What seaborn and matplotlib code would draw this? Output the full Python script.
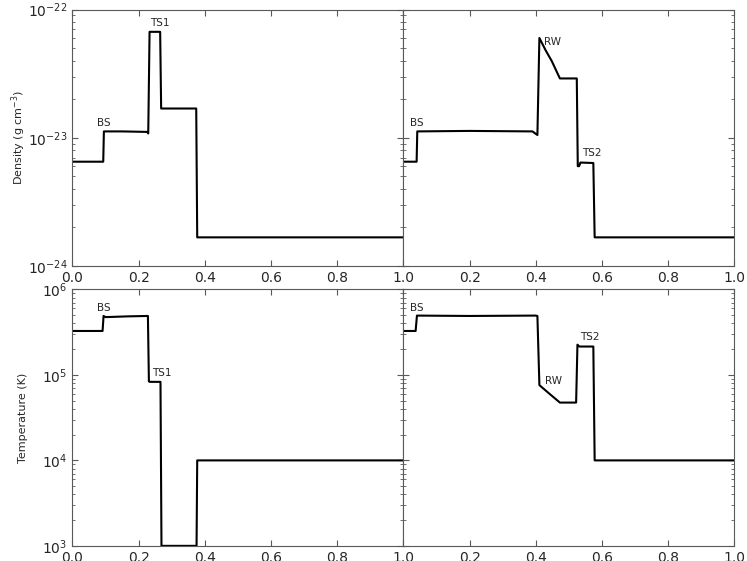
import numpy as np
import matplotlib
matplotlib.use('Agg')
import matplotlib.pyplot as plt
import seaborn as sns

# step profiles (position, value)
x_dens_1 = [0.0, 0.093, 0.095, 0.15, 0.226, 0.229, 0.233, 0.265, 0.268, 0.374, 0.377, 1.0]
dens_1 = [6.5e-24, 6.5e-24, 1.12e-23, 1.12e-23, 1.11e-23, 1.08e-23, 6.7e-23, 6.7e-23, 1.69e-23, 1.69e-23, 1.67e-24, 1.67e-24]

x_dens_2 = [0.0, 0.04, 0.042, 0.2, 0.39, 0.405, 0.411, 0.43, 0.448, 0.473, 0.524, 0.527, 0.531, 0.535, 0.574, 0.578, 1.0]
dens_2 = [6.5e-24, 6.5e-24, 1.12e-23, 1.13e-23, 1.12e-23, 1.05e-23, 6.0e-23, 4.8e-23, 3.98e-23, 2.9e-23, 2.9e-23, 6.0e-24, 6.0e-24, 6.4e-24, 6.35e-24, 1.67e-24, 1.67e-24]

x_temp_1 = [0.0, 0.091, 0.094, 0.1, 0.17, 0.228, 0.231, 0.234, 0.266, 0.269, 0.375, 0.377, 1.0]
temp_1 = [3.27e5, 3.27e5, 4.9e5, 4.75e5, 4.85e5, 4.9e5, 8.4e4, 8.3e4, 8.3e4, 1.0e3, 1.0e3, 1.0e4, 1.0e4]

x_temp_2 = [0.0, 0.037, 0.041, 0.2, 0.4, 0.405, 0.411, 0.443, 0.473, 0.522, 0.526, 0.532, 0.574, 0.578, 1.0]
temp_2 = [3.27e5, 3.27e5, 4.95e5, 4.9e5, 4.95e5, 4.9e5, 7.6e4, 5.95e4, 4.75e4, 4.75e4, 2.26e5, 2.15e5, 2.15e5, 1.0e4, 1.0e4]

# shock labels: (text, x, y)
labels_dens_1 = [('BS', 0.094, 1.3e-23), ('TS1', 0.263, 7.8e-23)]
labels_dens_2 = [('BS', 0.04, 1.3e-23), ('RW', 0.451, 5.6e-23), ('TS2', 0.57, 7.6e-24)]
labels_temp_1 = [('BS', 0.094, 6.1e5), ('TS1', 0.27, 1.04e5)]
labels_temp_2 = [('BS', 0.04, 6.1e5), ('RW', 0.453, 8.5e4), ('TS2', 0.564, 2.8e5)]

sns.set_style('ticks', {'xtick.direction': 'in', 'ytick.direction': 'in',
                        'axes.edgecolor': '0.35'})
plt.rcParams['font.family'] = ['DejaVu Sans']

fig, axes = plt.subplots(2, 2, figsize=(7.47, 5.61), dpi=100)
fig.subplots_adjust(left=0.097, right=0.983, top=0.983, bottom=0.027, wspace=0.0, hspace=0.092)

panels = [
    (axes[0, 0], x_dens_1, dens_1, labels_dens_1),
    (axes[0, 1], x_dens_2, dens_2, labels_dens_2),
    (axes[1, 0], x_temp_1, temp_1, labels_temp_1),
    (axes[1, 1], x_temp_2, temp_2, labels_temp_2),
]

for ax, xs, ys, labs in panels:
    sns.lineplot(x=xs, y=ys, ax=ax, color='black', lw=1.5, estimator=None, sort=False)
    ax.set_yscale('log')
    ax.set_xlim(0, 1)
    for t, tx, ty in labs:
        ax.text(tx, ty, t, fontsize=7.5, ha='center', va='center')
    ax.tick_params(which='both', top=True, right=True, labelsize=10, color='0.35')
    ax.tick_params(which='major', length=4)
    ax.tick_params(which='minor', length=2)
    ax.set_xticks([0.0, 0.2, 0.4, 0.6, 0.8, 1.0])

for ax in axes[0]:
    ax.set_ylim(1e-24, 1e-22)
for ax in axes[1]:
    ax.set_ylim(1e3, 1e6)

for ax in axes[:, 1]:
    ax.tick_params(labelleft=False)
    ax.set_xticklabels(['', '0.2', '0.4', '0.6', '0.8', '1.0'])

axes[0, 0].set_ylabel('Density (g cm$^{-3}$)', fontsize=8)
axes[1, 0].set_ylabel('Temperature (K)', fontsize=8)
for ax in axes[:, 0]:
    ax.yaxis.set_label_coords(-0.133, 0.5)

plt.savefig('out.png', dpi=100)
